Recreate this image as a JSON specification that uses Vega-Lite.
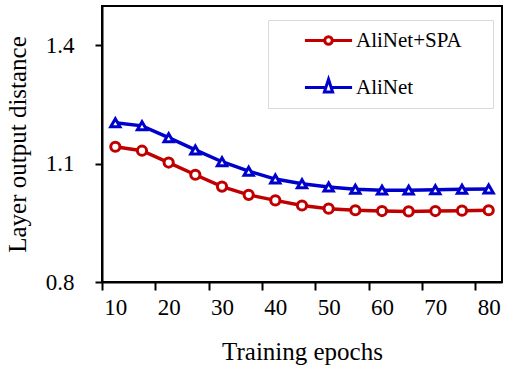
{
  "$schema": "https://vega.github.io/schema/vega-lite/v6.json",
  "width": 400,
  "height": 276,
  "autosize": "none",
  "padding": {"left": 102, "top": 6, "right": 6, "bottom": 93},
  "config": {
    "font": "Liberation Serif",
    "view": {"stroke": "black", "strokeWidth": 2},
    "axis": {
      "grid": false,
      "domainColor": "black",
      "domainWidth": 2,
      "tickColor": "black",
      "tickWidth": 2,
      "labelColor": "black",
      "titleColor": "black",
      "labelFont": "Liberation Serif",
      "titleFont": "Liberation Serif",
      "labelFontSize": 23,
      "titleFontSize": 25,
      "titleFontWeight": "normal",
      "labelFlush": false,
      "labelOverlap": false
    },
    "legend": {
      "labelFont": "Liberation Serif",
      "labelFontSize": 21,
      "labelColor": "black"
    }
  },
  "data": {
    "values": [
      {"epoch": 10, "series": "AliNet+SPA", "dist": 1.143},
      {"epoch": 15, "series": "AliNet+SPA", "dist": 1.133},
      {"epoch": 20, "series": "AliNet+SPA", "dist": 1.103},
      {"epoch": 25, "series": "AliNet+SPA", "dist": 1.072},
      {"epoch": 30, "series": "AliNet+SPA", "dist": 1.042},
      {"epoch": 35, "series": "AliNet+SPA", "dist": 1.021},
      {"epoch": 40, "series": "AliNet+SPA", "dist": 1.007},
      {"epoch": 45, "series": "AliNet+SPA", "dist": 0.994},
      {"epoch": 50, "series": "AliNet+SPA", "dist": 0.986},
      {"epoch": 55, "series": "AliNet+SPA", "dist": 0.982},
      {"epoch": 60, "series": "AliNet+SPA", "dist": 0.980},
      {"epoch": 65, "series": "AliNet+SPA", "dist": 0.979},
      {"epoch": 70, "series": "AliNet+SPA", "dist": 0.980},
      {"epoch": 75, "series": "AliNet+SPA", "dist": 0.981},
      {"epoch": 80, "series": "AliNet+SPA", "dist": 0.982},
      {"epoch": 10, "series": "AliNet", "dist": 1.204},
      {"epoch": 15, "series": "AliNet", "dist": 1.196},
      {"epoch": 20, "series": "AliNet", "dist": 1.166},
      {"epoch": 25, "series": "AliNet", "dist": 1.135},
      {"epoch": 30, "series": "AliNet", "dist": 1.105},
      {"epoch": 35, "series": "AliNet", "dist": 1.081},
      {"epoch": 40, "series": "AliNet", "dist": 1.061},
      {"epoch": 45, "series": "AliNet", "dist": 1.049},
      {"epoch": 50, "series": "AliNet", "dist": 1.041},
      {"epoch": 55, "series": "AliNet", "dist": 1.035},
      {"epoch": 60, "series": "AliNet", "dist": 1.033},
      {"epoch": 65, "series": "AliNet", "dist": 1.033},
      {"epoch": 70, "series": "AliNet", "dist": 1.034},
      {"epoch": 75, "series": "AliNet", "dist": 1.035},
      {"epoch": 80, "series": "AliNet", "dist": 1.036}
    ]
  },
  "encoding": {
    "x": {
      "field": "epoch",
      "type": "quantitative",
      "scale": {"domain": [7.5, 82.5], "nice": false, "zero": false},
      "axis": {
        "title": "Training epochs",
        "values": [7.5, 17.5, 27.5, 37.5, 47.5, 57.5, 67.5, 77.5],
        "labelExpr": "format(datum.value + 2.5, 'd')",
        "labelOffset": 13.3,
        "tickSize": 8,
        "labelPadding": 6,
        "titlePadding": 20
      }
    },
    "y": {
      "field": "dist",
      "type": "quantitative",
      "scale": {"domain": [0.8, 1.5], "nice": false, "zero": false},
      "axis": {
        "title": "Layer output distance",
        "values": [0.8, 1.1, 1.4],
        "format": ".1f",
        "tickSize": 7,
        "labelPadding": 21,
        "titlePadding": 15
      }
    }
  },
  "layer": [
    {
      "mark": {"type": "line", "strokeWidth": 3.5},
      "encoding": {
        "color": {
          "field": "series",
          "type": "nominal",
          "scale": {"domain": ["AliNet+SPA", "AliNet"], "range": ["#C00000", "#0000CC"]},
          "legend": null
        }
      }
    },
    {
      "mark": {"type": "point", "filled": false, "fill": "white", "fillOpacity": 1, "strokeWidth": 3, "size": 85, "opacity": 1},
      "encoding": {
        "color": {
          "field": "series",
          "type": "nominal",
          "scale": {"domain": ["AliNet+SPA", "AliNet"], "range": ["#C00000", "#0000CC"]},
          "legend": null
        },
        "shape": {
          "field": "series",
          "type": "nominal",
          "scale": {"domain": ["AliNet+SPA", "AliNet"], "range": ["circle", "triangle-up"]},
          "legend": null
        }
      }
    },
    {
      "transform": [{"filter": "false"}],
      "mark": {"type": "point", "filled": false, "size": 56, "strokeWidth": 3, "opacity": 1},
      "encoding": {
        "color": {
          "field": "series",
          "type": "nominal",
          "scale": {"domain": ["AliNet+SPA", "AliNet"], "range": ["#C00000", "#0000CC"]},
          "legend": {
            "title": "\u00a0",
            "titleOrient": "right",
            "titlePadding": 21,
            "titleFontSize": 1,
            "orient": "none",
            "legendX": 166,
            "legendY": 14,
            "padding": 10,
            "strokeColor": "#d9d9d9",
            "symbolSize": 56,
            "symbolStrokeWidth": 3,
            "symbolOpacity": 1,
            "symbolOffset": 40,
            "labelOffset": 17,
            "rowPadding": 22
          }
        },
        "shape": {
          "field": "series",
          "type": "nominal",
          "scale": {
            "domain": ["AliNet+SPA", "AliNet"],
            "range": [
              "M-6.3,0H-1M1,0H6.3M1,0A1,1,0,1,1,-1,0A1,1,0,1,1,1,0Z",
              "M-6.3,0H-0.75M0.75,0H6.3M0,-2.2L1.1,1.2L-1.1,1.2Z"
            ]
          },
          "legend": {
            "title": "\u00a0",
            "titleOrient": "right",
            "titlePadding": 21,
            "titleFontSize": 1,
            "orient": "none",
            "legendX": 166,
            "legendY": 14,
            "padding": 10,
            "strokeColor": "#d9d9d9",
            "symbolSize": 56,
            "symbolStrokeWidth": 3,
            "symbolOpacity": 1,
            "symbolOffset": 40,
            "labelOffset": 17,
            "rowPadding": 22
          }
        }
      }
    }
  ],
  "resolve": {"scale": {"shape": "independent", "color": "independent"}}
}
